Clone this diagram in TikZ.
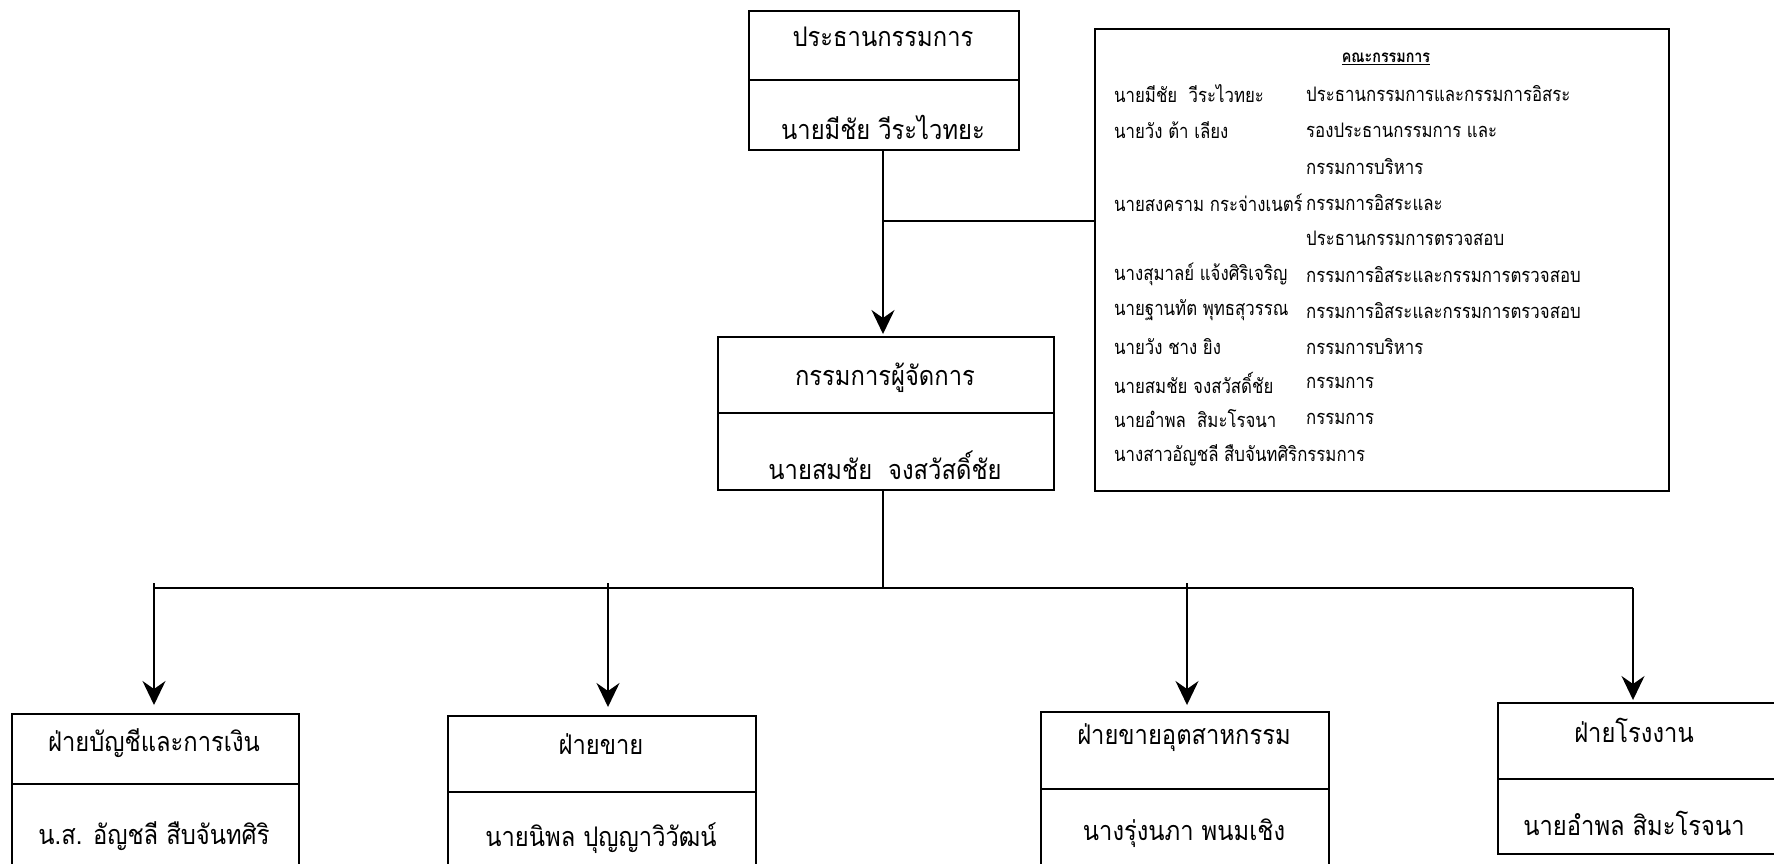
\documentclass[tikz,border=0pt]{standalone}
\usepackage{fontspec}
\newfontfamily\thai[Script=Thai]{Loma}
\newfontfamily\thaibox[Script=Thai,FakeStretch=0.88]{Loma}
\newfontfamily\thaicomm[Script=Thai,FakeStretch=0.84]{Loma}
\usetikzlibrary{arrows.meta}
\begin{document}
\begin{tikzpicture}[x=1pt,y=-1pt,
  box/.style={draw, line width=2pt, anchor=north west, inner sep=0pt},
  divider/.style={line width=2pt},
  conn/.style={line width=1.8pt},
  arr/.style={conn, -{Stealth[length=24pt,width=23pt,inset=8pt]}},
  boxtext/.style={font=\thaibox\fontsize{27}{30}\selectfont, inner sep=0pt},
  ctext/.style={font=\thaicomm\fontsize{20}{24}\selectfont, inner sep=0pt, anchor=west},
]
\clip (0,0) rectangle (1774,863);
\fill[white] (0,0) rectangle (1774,863);

% chair box
\node[box, minimum width=270pt, minimum height=139pt] (chair) at (748,10) {};
\draw[divider] (748,80) -- (1018,80);
\node[boxtext] (chairA) at (883,37) {ประธานกรรมการ};
\node[boxtext] (chairB) at (883,127) {นายมีชัย วีระไวทยะ};

% committee box
\node[box, minimum width=574pt, minimum height=462pt] (comm) at (1094,28) {};
\node[font=\thaicomm\bfseries\fontsize{17}{20}\selectfont, inner sep=0pt] (ch) at (1386,59) {\underline{คณะกรรมการ}};
\foreach \i/\a/\b in {
 0/นายมีชัย\ \ วีระไวทยะ/ประธานกรรมการและกรรมการอิสระ,
 1/นายวัง ต้า เลียง/รองประธานกรรมการ และ,
 2//กรรมการบริหาร,
 3/นายสงคราม กระจ่างเนตร์/กรรมการอิสระและ,
 4//ประธานกรรมการตรวจสอบ,
 5/นางสุมาลย์ แจ้งศิริเจริญ/กรรมการอิสระและกรรมการตรวจสอบ,
 6/นายฐานทัต พุทธสุวรรณ/กรรมการอิสระและกรรมการตรวจสอบ,
 7/นายวัง ชาง ยิง/กรรมการบริหาร,
 8/นายสมชัย จงสวัสดิ์ชัย/กรรมการ,
 9/นายอำพล\ \ สิมะโรจนา/กรรมการ}{
  \node[ctext] (cl\i) at (1114,{94+36.1*\i}) {\a};
  \node[ctext] (cr\i) at (1306,{94+36.1*\i}) {\b};
}
\node[ctext] (cl10) at (1114,{94+36.1*10}) {นางสาวอัญชลี สืบจันทศิริกรรมการ};

% MD box
\node[box, minimum width=336pt, minimum height=153pt] (md) at (717,336) {};
\draw[divider] (717,413) -- (1053,413);
\node[boxtext] (mdA) at (885,378) {กรรมการผู้จัดการ};
\node[boxtext] (mdB) at (885,465) {นายสมชัย\ \ จงสวัสดิ์ชัย};

% bottom boxes
\node[box, minimum width=287pt, minimum height=200pt] (b1) at (11,713) {};
\draw[divider] (11,784) -- (298,784);
\node[boxtext] (b1A) at (154,743) {ฝ่ายบัญชีและการเงิน};
\node[boxtext] (b1B) at (154,836) {น.ส. อัญชลี สืบจันทศิริ};

\node[box, minimum width=308pt, minimum height=200pt] (b2) at (447,715) {};
\draw[divider] (447,792) -- (755,792);
\node[boxtext] (b2A) at (601,744) {ฝ่ายขาย};
\node[boxtext] (b2B) at (601,838) {นายนิพล ปุญญาวิวัฒน์};

\node[box, minimum width=288pt, minimum height=200pt] (b3) at (1040,711) {};
\draw[divider] (1040,789) -- (1328,789);
\node[boxtext] (b3A) at (1184,738) {ฝ่ายขายอุตสาหกรรม};
\node[boxtext] (b3B) at (1184,833) {นางรุ่งนภา พนมเชิง};

\node[box, minimum width=280pt, minimum height=151pt] (b4) at (1497,702) {};
\draw[divider] (1497,779) -- (1777,779);
\node[boxtext] (b4A) at (1634,730) {ฝ่ายโรงงาน};
\node[boxtext] (b4B) at (1634,823) {นายอำพล สิมะโรจนา};

% connectors
\coordinate (j1) at (883,221);
\draw[conn] (j1) -- (j1 -| comm.west);
\draw[arr, shorten >=2pt] (chair.south -| 883,0) -- (md.north -| 883,0);
\coordinate (bus) at (883,588);
\draw[conn] (md.south -| bus) -- (bus);
\coordinate (t1) at (154,588);
\coordinate (t2) at (608,588);
\coordinate (t3) at (1187,588);
\coordinate (t4) at (1633,588);
\draw[conn] (t1) -- (t4);
\draw[arr, shorten >=8pt] ([yshift=5pt]t1) -- (t1 |- b1.north);
\draw[arr, shorten >=8pt] ([yshift=5pt]t2) -- (t2 |- b2.north);
\draw[arr, shorten >=6pt] ([yshift=5pt]t3) -- (t3 |- b3.north);
\draw[arr, shorten >=2pt] (t4) -- (t4 |- b4.north);
\end{tikzpicture}
\end{document}
